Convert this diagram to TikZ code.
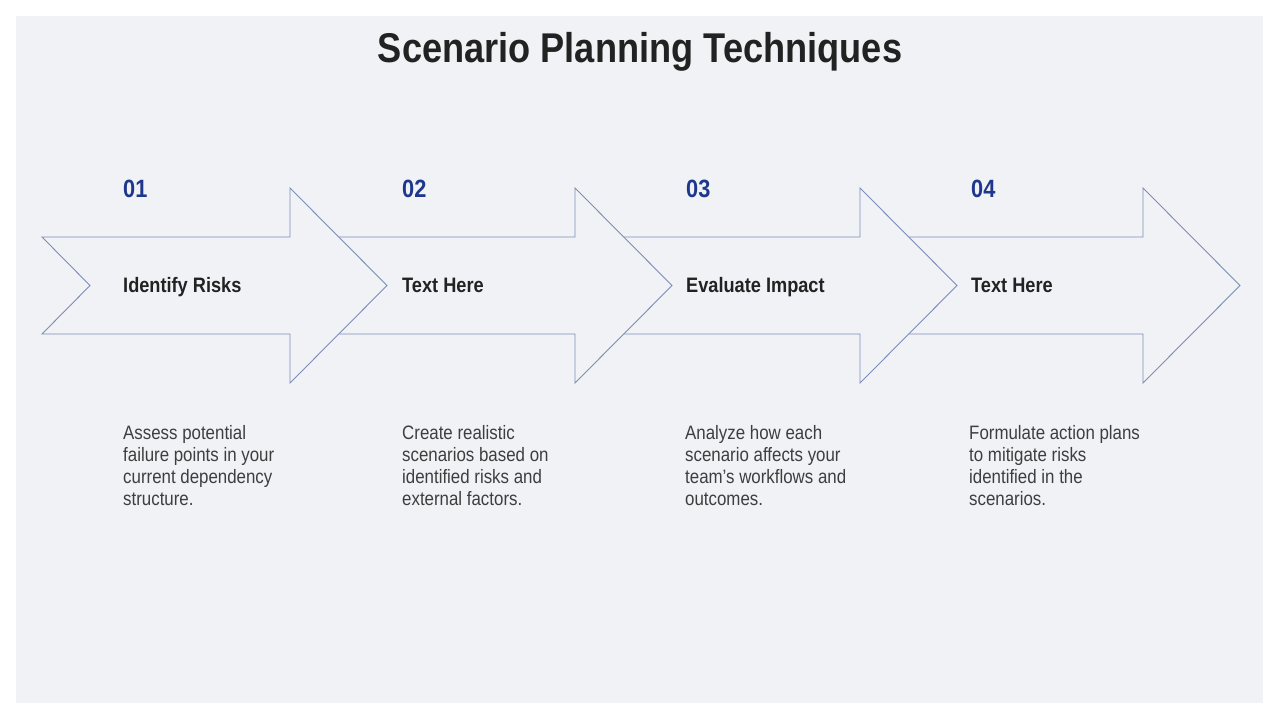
\documentclass[tikz,border=0pt]{standalone}
\usepackage{fontspec}
\setmainfont{Liberation Sans}[FakeStretch=0.87]
\usetikzlibrary{positioning}
\definecolor{pagegray}{RGB}{240,242,246}
\definecolor{arrowline}{RGB}{125,140,185}
\definecolor{numblue}{RGB}{30,55,140}
\definecolor{titledark}{RGB}{34,34,34}
\definecolor{descgray}{RGB}{62,62,62}

% one chevron arrow, given the x of its shoulder
\newcommand{\chevronarrow}[1]{%
  \filldraw[arrowshape]
    (#1-248,237) -- (#1,237) -- (#1,188) -- (#1+97,285.5)
    -- (#1,383) -- (#1,334) -- (#1-248,334) -- (#1-200,285.5) -- cycle;}

\begin{document}
\begin{tikzpicture}[
    x=1pt, y=-1pt,
    every node/.style={inner sep=0pt, text=titledark},
    arrowshape/.style={fill=pagegray, draw=arrowline, line width=0.9pt},
    stepnum/.style={anchor=base west, text=numblue,
      font=\bfseries\fontsize{25}{30}\selectfont},
    steptitle/.style={anchor=base west,
      font=\bfseries\fontsize{20.9}{24}\selectfont},
    stepdesc/.style={anchor=north west, align=left, text=descgray,
      font=\fontsize{19.4}{22}\selectfont}
  ]

  % ============================================================
  %  Page and panel
  % ============================================================
  \useasboundingbox (0,0) rectangle (1280,720);
  \fill[white] (0,0) rectangle (1280,720);
  \fill[pagegray] (16,16) rectangle (1263,703);

  \node[anchor=base, font=\bfseries\fontsize{41.6}{48}\selectfont]
    (title) at (640,62) {Scenario Planning Techniques};

  % ============================================================
  %  Arrows (last one first, so each covers the next one's tail)
  % ============================================================
  \chevronarrow{1143}
  \chevronarrow{860}
  \chevronarrow{575}
  \chevronarrow{290}

  % ============================================================
  %  Step labels
  % ============================================================
  \node[stepnum] (num1) at (123,197) {01};
  \node[stepnum] (num2) at (402,197) {02};
  \node[stepnum] (num3) at (686,197) {03};
  \node[stepnum] (num4) at (971,197) {04};

  \node[steptitle] (risks)  at (123,292) {Identify Risks};
  \node[steptitle] (textA)  at (402,292) {Text Here};
  \node[steptitle] (impact) at (686,292) {Evaluate Impact};
  \node[steptitle] (textB)  at (971,292) {Text Here};

  % --- descriptions under the arrows ---
  \node[stepdesc] (desc1) at (123,425)
    {Assess potential\\failure points in your\\current dependency\\structure.};
  \node[stepdesc] (desc2) at (402,425)
    {Create realistic\\scenarios based on\\identified risks and\\external factors.};
  \node[stepdesc] (desc3) at (685,425)
    {Analyze how each\\scenario affects your\\team’s workflows and\\outcomes.};
  \node[stepdesc] (desc4) at (969,425)
    {Formulate action plans\\to mitigate risks\\identified in the\\scenarios.};

\end{tikzpicture}
\end{document}
